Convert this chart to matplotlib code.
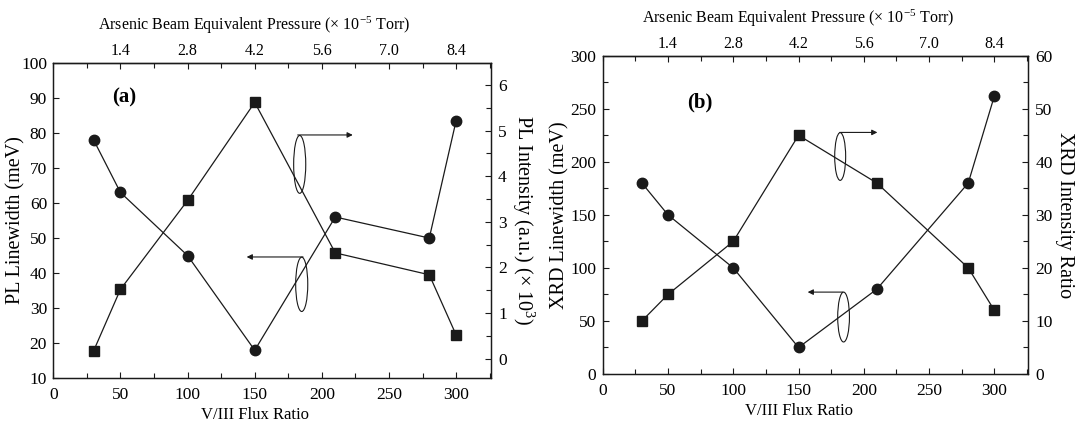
import matplotlib
matplotlib.use('Agg')
import matplotlib.pyplot as plt
from matplotlib.patches import Ellipse
from matplotlib.ticker import MultipleLocator, FixedLocator

plt.rcParams['font.family'] = ['Liberation Serif', 'DejaVu Serif']
plt.rcParams['mathtext.fontset'] = 'custom'
plt.rcParams['mathtext.rm'] = 'Liberation Serif'
plt.rcParams['mathtext.it'] = 'Liberation Serif:italic'

# shared x data (V/III flux ratio)
flux_ratio = [30, 50, 100, 150, 210, 280, 300]
pressure_ticks = [1.4, 2.8, 4.2, 5.6, 7.0, 8.4]
pressure_per_ratio = 0.028

# panel (a)
pl_linewidth = [78, 63, 45, 18, 56, 50, 83.5]
pl_intensity = [0.17, 1.52, 3.47, 5.62, 2.32, 1.84, 0.52]

# panel (b)
xrd_linewidth = [180, 150, 100, 25, 80, 180, 262]
xrd_intensity = [10, 15, 25, 45, 36, 20, 12]

tickSize = 12.5
xlabelSize = 12
ylabelSize = 14.5
topSize = 11.5
lineColor = '#1a1a1a'
xmax = 326


def style_axis(ax, size, pad):
    ax.tick_params(direction='in', which='major', length=4.5, width=0.8,
                   labelsize=size, color=lineColor, pad=pad)
    ax.tick_params(direction='in', which='minor', length=3.5, width=0.8,
                   color=lineColor)
    for sp in ax.spines.values():
        sp.set_linewidth(0.9)
        sp.set_color(lineColor)


def panel(fig, rect, left_vals, right_vals, left_lim, right_lim,
          left_step, left_minor, right_step, right_minor,
          left_label, right_label, ypad, tag, tag_pos, arrows):
    ax = fig.add_axes(rect)
    ax2 = ax.twinx()

    ax.plot(flux_ratio, left_vals, '-o', color=lineColor, lw=0.9, ms=7.5,
            zorder=3)
    ax2.plot(flux_ratio, right_vals, '-s', color=lineColor, lw=0.9, ms=7,
             zorder=3)

    ax.set_xlim(0, xmax)
    ax.set_ylim(*left_lim)
    ax2.set_ylim(*right_lim)
    ax.xaxis.set_major_locator(MultipleLocator(50))
    ax.xaxis.set_minor_locator(MultipleLocator(25))
    ax.yaxis.set_major_locator(MultipleLocator(left_step))
    if left_minor:
        ax.yaxis.set_minor_locator(MultipleLocator(left_minor))
    ax2.yaxis.set_major_locator(MultipleLocator(right_step))
    ax2.yaxis.set_minor_locator(MultipleLocator(right_minor))

    top = ax.secondary_xaxis('top', functions=(lambda x: x * pressure_per_ratio,
                                               lambda p: p / pressure_per_ratio))
    top.xaxis.set_major_locator(FixedLocator(pressure_ticks))
    top.xaxis.set_minor_locator(MultipleLocator(0.7))
    top.set_xticklabels([f'{p:.1f}' for p in pressure_ticks])
    top.set_xlabel(r'Arsenic Beam Equivalent Pressure ($\times$ 10$^{-5}$ Torr)',
                   fontsize=topSize, labelpad=9)
    # the x titles are centred over the 0-300 data range
    top.xaxis.label.set_x(150 / xmax)

    style_axis(ax, tickSize, 4.5)
    ax.tick_params(axis='x', which='major', pad=6.5)
    style_axis(ax2, tickSize, 5)
    style_axis(top, topSize, 3)

    ax.set_xlabel('V/III Flux Ratio', fontsize=xlabelSize, labelpad=2.5)
    ax.xaxis.label.set_x(150 / xmax)
    ax.set_ylabel(left_label, fontsize=ylabelSize, labelpad=ypad)
    ax2.set_ylabel(right_label, fontsize=ylabelSize, rotation=270,
                   va='bottom', labelpad=2)

    ax.text(tag_pos[0], tag_pos[1], tag, fontsize=15, fontweight='bold',
            ha='center', va='center')

    for (cx, cy, w, h, x0, x1, ya) in arrows:
        ax.add_patch(Ellipse((cx, cy), w, h, fill=False, lw=0.8,
                             ec=lineColor, zorder=4))
        ax.annotate('', xy=(x1, ya), xytext=(x0, ya),
                    arrowprops=dict(arrowstyle='-|>', lw=0.8, color=lineColor,
                                    mutation_scale=8, shrinkA=0, shrinkB=0))
    return ax


fig = plt.figure(figsize=(10.79, 4.23), dpi=100)

panel(fig, [0.0494, 0.1057, 0.4057, 0.746],
      pl_linewidth, pl_intensity, (10, 100), (-0.43, 6.49),
      10, None, 1, 0.5,
      'PL Linewidth (meV)', r'PL Intensity (a.u.) ($\times$ 10$^3$)', -3.5,
      '(a)', (53, 90),
      [(183.5, 71, 9, 16.5, 182, 223, 79.4),
       (185, 36.8, 9, 15.5, 186, 144, 44.6)])

panel(fig, [0.5586, 0.1158, 0.3944, 0.7525],
      xrd_linewidth, xrd_intensity, (0, 300), (0, 60),
      50, 25, 10, 5,
      'XRD Linewidth (meV)', 'XRD Intensity Ratio', 1,
      '(b)', (74, 256),
      [(181.9, 205, 8.4, 45, 181.5, 210.4, 227.7),
       (184.5, 53.7, 9, 47, 184, 157, 77.2)])

fig.savefig('out.png', dpi=100)
